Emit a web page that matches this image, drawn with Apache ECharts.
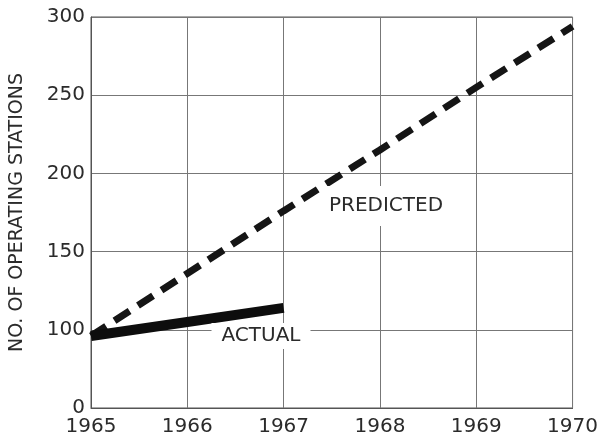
<!DOCTYPE html>
<html>
<head>
<meta charset="utf-8">
<script src="https://cdn.jsdelivr.net/npm/echarts@6/dist/echarts.min.js"></script>
<style>
  html, body { margin: 0; padding: 0; background: #fff; }
  #chart { width: 601px; height: 437px; }
</style>
</head>
<body>
<div id="chart"></div>
<script>
// Years along the horizontal axis
const years = [1965, 1966, 1967, 1968, 1969, 1970];
// Forecast number of operating stations, one value per year
const predicted = [96, 136, 176, 215, 255, 294];
// Recorded number of operating stations (1965-1967)
const actualYears = [1965, 1966, 1967];
const actual = [96, 105, 114];
// Vertical tick values; the lowest gridline is the broken-axis origin shown as "0"
const yTicks = [50, 100, 150, 200, 250, 300];
const yTickLabels = ['0', '100', '150', '200', '250', '300'];

const FONT = 'DejaVu Sans';
const INK = '#2b2b2b';

const chart = echarts.init(document.getElementById('chart'), null, { renderer: 'canvas' });

chart.setOption({
  animation: false,
  backgroundColor: '#fff',
  grid: {
    left: 86, right: 27, top: 17, bottom: 29,
    show: true, borderColor: '#555', borderWidth: 1
  },
  xAxis: {
    type: 'value',
    min: years[0], max: years[years.length - 1], interval: 1,
    axisLine: { show: true, lineStyle: { color: '#555', width: 1 } },
    axisTick: { show: false },
    splitLine: { show: true, lineStyle: { color: '#777', width: 1 } },
    axisLabel: {
      margin: 9,
      fontFamily: FONT, fontSize: 20, color: INK,
      formatter: v => String(v)
    }
  },
  yAxis: {
    type: 'value',
    min: yTicks[0], max: yTicks[yTicks.length - 1], interval: 50,
    name: 'NO. OF OPERATING STATIONS',
    nameLocation: 'middle',
    nameGap: 64,
    nameRotate: 90,
    nameTextStyle: { fontFamily: FONT, fontSize: 19, color: INK },
    axisLine: { show: true, lineStyle: { color: '#555', width: 1 } },
    axisTick: { show: false },
    splitLine: { show: true, lineStyle: { color: '#777', width: 1 } },
    axisLabel: {
      margin: 6,
      fontFamily: FONT, fontSize: 20, color: INK,
      formatter: v => {
        const i = yTicks.indexOf(v);
        return i >= 0 ? yTickLabels[i] : '';
      }
    }
  },
  series: [
    {
      name: 'PREDICTED',
      type: 'line',
      data: years.map((y, i) => [y, predicted[i]]),
      showSymbol: false,
      z: 2,
      lineStyle: { color: '#151515', width: 7, type: [18, 10], cap: 'butt' }
    },
    {
      name: 'ACTUAL',
      type: 'line',
      data: actualYears.map((y, i) => [y, actual[i]]),
      showSymbol: false,
      z: 3,
      lineStyle: { color: '#0d0d0d', width: 10, cap: 'butt' }
    }
  ],
  graphic: [
    {
      type: 'text', z: 10,
      x: 386, y: 206,
      style: {
        text: 'PREDICTED', align: 'center', verticalAlign: 'middle',
        font: '20px "DejaVu Sans"', fill: INK,
        backgroundColor: '#fff', padding: [10, 4]
      }
    },
    {
      type: 'text', z: 10,
      x: 261, y: 336,
      style: {
        text: 'ACTUAL', align: 'center', verticalAlign: 'middle',
        font: '20px "DejaVu Sans"', fill: INK,
        backgroundColor: '#fff', padding: [3, 10]
      }
    }
  ]
});
</script>
</body>
</html>
